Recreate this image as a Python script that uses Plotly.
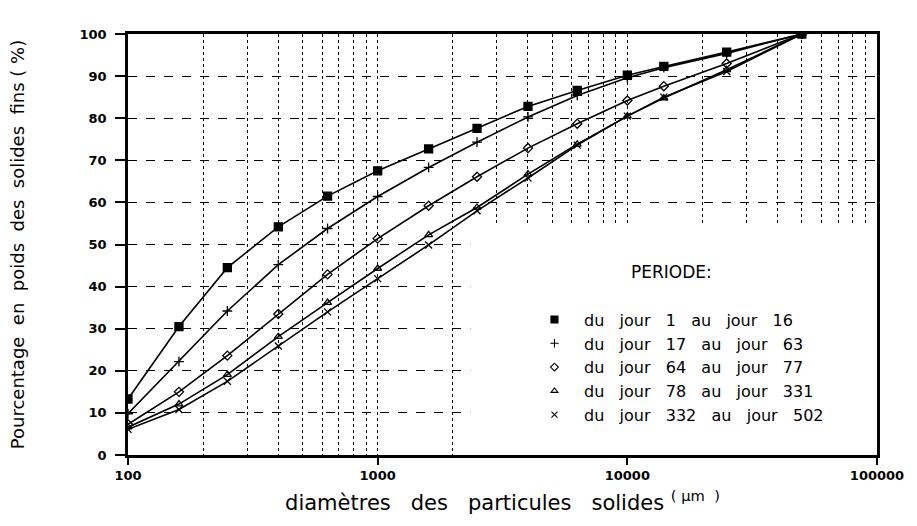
import plotly.graph_objects as go

# particle diameters (um)
diametres = [100, 160, 250, 400, 630, 1000, 1600, 2500, 4000, 6300, 10000, 14000, 25000, 50000]

# cumulative % of fine solids, one list per period
jour_1_16 = [13.3, 30.5, 44.5, 54.2, 61.5, 67.5, 72.7, 77.6, 82.8, 86.6, 90.2, 92.3, 95.7, 100]
jour_17_63 = [9.8, 22.2, 34.2, 45.2, 53.8, 61.4, 68.3, 74.3, 80.3, 85.4, 89.6, 92.0, 95.4, 100]
jour_64_77 = [7.3, 15.0, 23.6, 33.5, 42.9, 51.4, 59.2, 66.1, 72.9, 78.7, 84.2, 87.6, 93.0, 100]
jour_78_331 = [6.6, 12.1, 19.1, 28.1, 36.2, 44.3, 52.3, 58.8, 66.7, 73.8, 80.5, 84.8, 91.5, 100]
jour_332_502 = [6.1, 10.8, 17.5, 25.9, 34.0, 41.9, 49.9, 58.0, 65.8, 73.6, 80.5, 85.0, 91.1, 100]

periodes = ["du jour 1 au jour 16", "du jour 17 au jour 63", "du jour 64 au jour 77",
            "du jour 78 au jour 331", "du jour 332 au jour 502"]

series = [
    (periodes[0], jour_1_16, "square", 8),
    (periodes[1], jour_17_63, "cross-thin-open", 7),
    (periodes[2], jour_64_77, "diamond-open", 7),
    (periodes[3], jour_78_331, "triangle-up-open", 7),
    (periodes[4], jour_332_502, "x-thin-open", 7),
]

FONT = "DejaVu Sans"


def wide(text, n=3):
    # the original typeface is very loosely spaced, widen the word gaps
    return text.replace(" ", "\u00a0" * n)


fig = go.Figure()
for name, values, symbol, size in series:
    fig.add_trace(go.Scatter(
        x=diametres, y=values, mode="lines+markers", showlegend=False,
        line=dict(color="black", width=1.6),
        marker=dict(symbol=symbol, size=size, color="black",
                    line=dict(color="black", width=1.3)),
    ))
# legend-only entries (marker symbol without the line)
for name, values, symbol, size in series:
    fig.add_trace(go.Scatter(
        x=[None], y=[None], mode="markers", name=wide(name, 3),
        marker=dict(symbol=symbol, size=size - 1, color="black",
                    line=dict(color="black", width=1.1)),
    ))

# blank area behind the legend (grid does not run there)
fig.add_shape(type="rect", xref="x", yref="y", x0=2350, x1=100000, y0=0, y1=55,
              fillcolor="white", line=dict(width=0), layer="between")

fig.add_annotation(text="PERIODE:", xref="paper", yref="paper", x=0.726, y=0.435,
                   xanchor="center", yanchor="middle",
                   showarrow=False, font=dict(family=FONT, size=17, color="black"))

fig.update_xaxes(
    type="log", range=[2, 5], dtick=1,
    tickvals=[100, 1000, 10000, 100000], ticktext=["100", "1000", "10000", "100000"],
    ticks="outside", ticklen=7, tickwidth=1.5, tickcolor="black",
    tickfont=dict(family=FONT, size=13, color="black", weight="bold"),
    ticklabelstandoff=0,
    showgrid=True, gridcolor="black", griddash="dot", gridwidth=1,
    minor=dict(showgrid=True, gridcolor="black", griddash="dot", gridwidth=1,
               tickvals=[v * d for d in (100, 1000, 10000) for v in range(2, 10)]),
    showline=True, linecolor="black", linewidth=2.5, mirror=True, zeroline=False,
    automargin=False,
    title=dict(text=wide("diamètres des particules solides", 3) + "\u00a0<sup>(\u00a0µm\u00a0\u00a0)</sup>",
               font=dict(family=FONT, size=21, color="black"), standoff=13),
)
fig.update_yaxes(
    range=[0, 100], dtick=10,
    ticks="outside", ticklen=10, tickwidth=1.5, tickcolor="black",
    tickfont=dict(family=FONT, size=13, color="black", weight="bold"),
    ticklabelstandoff=6,
    showgrid=True, gridcolor="black", griddash="dash", gridwidth=1,
    showline=True, linecolor="black", linewidth=2.5, mirror=True, zeroline=False,
    automargin=False,
    title=dict(text=wide("Pourcentage en poids des solides fins", 2) + "\u00a0(\u00a0%)",
               font=dict(family=FONT, size=18, color="black"), standoff=51),
)

fig.update_layout(
    width=917, height=526,
    margin=dict(l=128, r=40, t=34, b=71),
    paper_bgcolor="white", plot_bgcolor="white",
    font=dict(family=FONT, color="black"),
    legend=dict(x=0.53, y=0.362, xanchor="left", yanchor="top",
                bgcolor="rgba(0,0,0,0)", font=dict(family=FONT, size=16, color="black"),
                itemwidth=49, tracegroupgap=0),
)

# page has a default 8px body margin, drop it so the figure sits at the origin
fig.write_html("out.html", config={"displayModeBar": False},
               post_script="document.body.style.margin='0';")
